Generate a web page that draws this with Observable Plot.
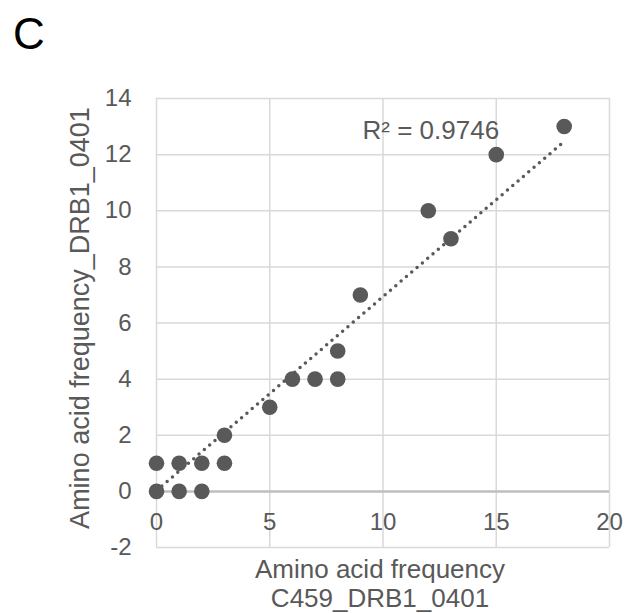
<!DOCTYPE html>
<html>
<head>
<meta charset="utf-8">
<script src="https://cdn.jsdelivr.net/npm/d3@7"></script>
<script src="https://cdn.jsdelivr.net/npm/@observablehq/plot@0.6"></script>
<style>
  body { margin: 0; background: #fff; }
  #wrap { position: relative; width: 636px; height: 613px; font-family: "Liberation Sans", Arial, sans-serif; }
  #panel { position: absolute; left: 13px; top: 12px; font-size: 44px; color: #000; line-height: 1; z-index: 2; }
  #wrap svg { position: absolute; left: 0; top: 0; z-index: 1; }
</style>
</head>
<body>
<div id="wrap"><div id="panel">C</div></div>
<script>
const xValues = [0, 0, 1, 1, 2, 2, 3, 3, 5, 6, 7, 8, 8, 9, 12, 13, 15, 18];
const yValues = [0, 1, 0, 1, 0, 1, 1, 2, 3, 4, 4, 4, 5, 7, 10, 9, 12, 13];
const xTicks = [0, 5, 10, 15, 20];
const yTicks = [-2, 0, 2, 4, 6, 8, 10, 12, 14];
// linear trendline coefficients
const trendSlope = 0.691;
const trendIntercept = 0.03;
const xTitle = "Amino acid frequency\nC459_DRB1_0401";
const yTitle = "Amino acid frequency_DRB1_0401";
const r2Label = "R² = 0.9746";

const points = xValues.map((x, i) => ({x, y: yValues[i]}));
const trend = d3.extent(xValues).map(x => ({x, y: trendIntercept + trendSlope * x}));

const grey = "#595959";
const chart = Plot.plot({
  width: 636,
  height: 613,
  marginLeft: 156,
  marginRight: 27,
  marginTop: 98,
  marginBottom: 66,
  style: {fontFamily: "Liberation Sans, Arial, sans-serif", background: "transparent"},
  x: {domain: [0, 20], axis: null},
  y: {domain: [-2, 14], axis: null},
  marks: [
    Plot.ruleX(xTicks, {stroke: "#d9d9d9", strokeWidth: 1.5, strokeOpacity: 1}),
    Plot.ruleY(yTicks, {stroke: "#d9d9d9", strokeWidth: 1.5, strokeOpacity: 1}),
    Plot.ruleY([0], {stroke: "#bfbfbf", strokeWidth: 2.5}),
    Plot.axisY(yTicks, {tickSize: 0, tickPadding: 25, fontSize: 24, color: grey, tickFormat: d => String(d), label: null}),
    Plot.text(xTicks, {x: d => d, y: () => 0, dy: 31, text: d => String(d), fontSize: 24, fill: grey}),
    Plot.line(trend, {x: "x", y: "y", stroke: grey, strokeWidth: 3.5, strokeDasharray: "0 7", strokeLinecap: "round"}),
    Plot.dot(points, {x: "x", y: "y", r: 7.8, fill: grey, stroke: "none"}),
    Plot.text([r2Label], {frameAnchor: "top-left", dx: 206, dy: 32, textAnchor: "start", lineAnchor: "middle", fontSize: 26, fill: grey}),
    Plot.text([xTitle], {frameAnchor: "bottom", dx: -3, dy: 11, lineAnchor: "top", lineHeight: 1.08, fontSize: 26, fill: grey}),
    Plot.text([yTitle], {frameAnchor: "left", dx: -76, dy: -5, rotate: -90, textAnchor: "middle", lineAnchor: "middle", fontSize: 27, fill: grey})
  ]
});
document.getElementById("wrap").appendChild(chart);
</script>
</body>
</html>
